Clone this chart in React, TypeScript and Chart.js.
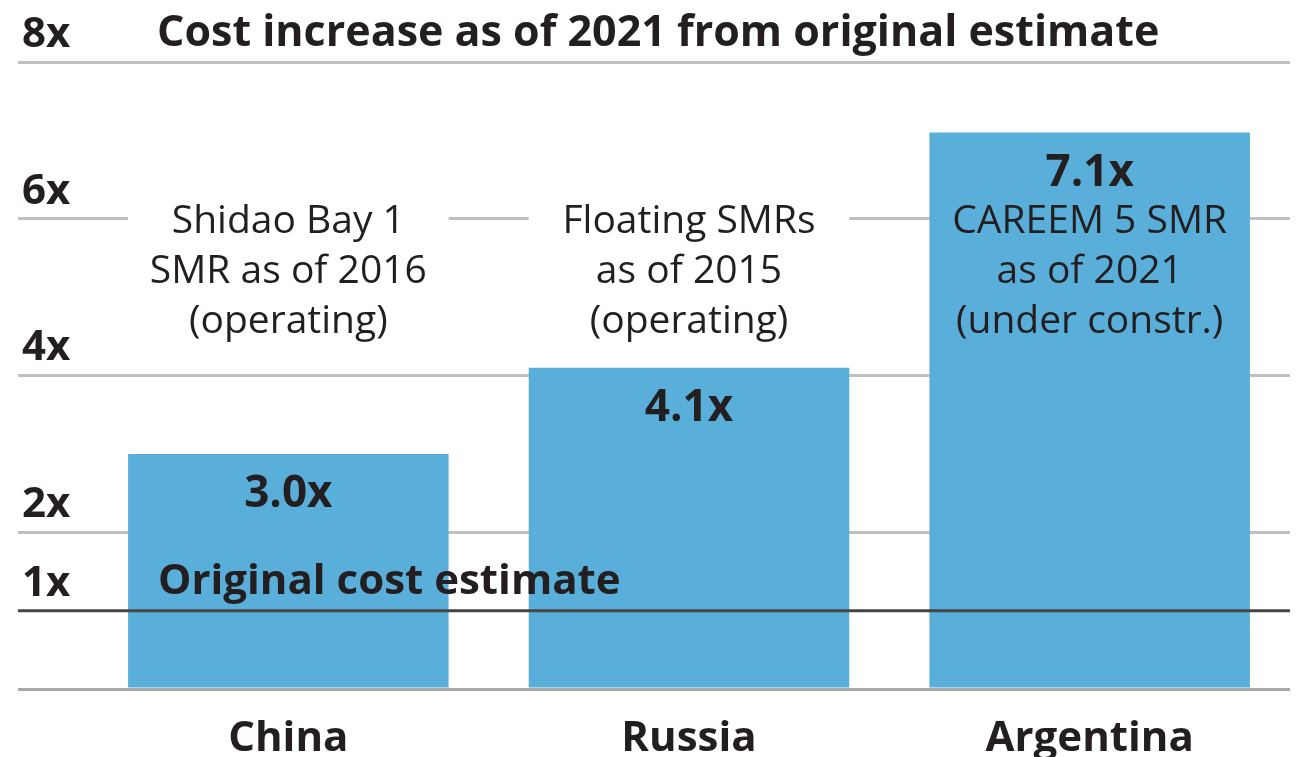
import React, { useEffect, useRef } from 'react';
import { Chart, registerables } from 'chart.js';

Chart.register(...registerables);

// ---- Data ----
const categories = ['China', 'Russia', 'Argentina'];
const costMultiples = [3.0, 4.1, 7.1];
const valueLabels = ['3.0x', '4.1x', '7.1x'];
const projectNotes = [
  ['Shidao Bay 1', 'SMR as of 2016', '(operating)'],
  ['Floating SMRs', 'as of 2015', '(operating)'],
  ['CAREEM 5 SMR', 'as of 2021', '(under constr.)'],
];
const yTickValues = [0, 1, 2, 4, 6, 8];
const yMax = 8;
const baselineValue = 1;
const noteAnchorValue = 6;
const titleText = 'Cost increase as of 2021 from original estimate';
const baselineLabel = 'Original cost estimate';

// ---- Styles ----
const FONT = '"Open Sans", sans-serif';
const TEXT = '#231f20';
const BAR = '#5aafda';

const overlayPlugin = {
  id: 'overlay',
  beforeDatasetsDraw(chart: any) {
    const { ctx } = chart;
    const y = chart.scales.y;
    const meta = chart.getDatasetMeta(0);
    const yNote = y.getPixelForValue(noteAnchorValue);
    ctx.save();
    ctx.fillStyle = '#ffffff';
    meta.data.forEach((bar: any, i: number) => {
      if (costMultiples[i] < noteAnchorValue) {
        const w = bar.width;
        ctx.fillRect(bar.x - w / 2, yNote - 4, w, 8);
      }
    });
    ctx.restore();
  },
  afterDatasetsDraw(chart: any) {
    const { ctx, chartArea } = chart;
    const y = chart.scales.y;
    const meta = chart.getDatasetMeta(0);
    ctx.save();
    // original estimate line, on top of bars
    const y1 = y.getPixelForValue(baselineValue);
    ctx.strokeStyle = '#454545';
    ctx.lineWidth = 3;
    ctx.beginPath();
    ctx.moveTo(y.left, y1);
    ctx.lineTo(chartArea.right, y1);
    ctx.stroke();

    ctx.fillStyle = TEXT;
    ctx.textBaseline = 'middle';

    // value labels inside bars
    ctx.font = `bold 44px ${FONT}`;
    ctx.textAlign = 'center';
    meta.data.forEach((bar: any, i: number) => {
      ctx.fillText(valueLabels[i], bar.x, bar.y + 41);
    });

    // project notes
    ctx.font = `39px ${FONT}`;
    const yNote = y.getPixelForValue(noteAnchorValue);
    meta.data.forEach((bar: any, i: number) => {
      projectNotes[i].forEach((t, j) => {
        ctx.fillText(t, bar.x, yNote + 3 + j * 50);
      });
    });

    // baseline label
    ctx.font = `bold 42px ${FONT}`;
    ctx.textAlign = 'left';
    ctx.fillText(baselineLabel, 158, y1 - 29);

    // title
    ctx.font = `bold 43px ${FONT}`;
    ctx.fillText(titleText, 157, y.getPixelForValue(yMax) - 28);
    ctx.restore();
  },
};

export default function App() {
  const ref = useRef<HTMLCanvasElement>(null);

  useEffect(() => {
    const canvas = ref.current;
    if (!canvas) return;
    const chart = new Chart(canvas, {
      type: 'bar',
      data: {
        labels: categories,
        datasets: [
          {
            data: costMultiples,
            backgroundColor: BAR,
            borderWidth: 0,
            barPercentage: 0.8,
            categoryPercentage: 1.0,
          },
        ],
      },
      options: {
        responsive: false,
        animation: false,
        devicePixelRatio: 1,
        layout: { padding: { left: 18, right: 7, top: 62, bottom: 0 } },
        plugins: {
          legend: { display: false },
          tooltip: { enabled: false },
          title: { display: false },
        },
        scales: {
          x: {
            grid: { display: false },
            border: { display: false },
            afterFit: (s: any) => {
              s.height = 68;
            },
            ticks: {
              padding: 17,
              autoSkip: false,
              maxRotation: 0,
              color: TEXT,
              font: { family: 'Open Sans', size: 42, weight: 'bold' },
            },
          },
          y: {
            min: 0,
            max: yMax,
            afterBuildTicks: (s: any) => {
              s.ticks = yTickValues.map((v) => ({ value: v }));
            },
            afterFit: (s: any) => {
              s.width = 70;
            },
            border: { display: false },
            grid: {
              lineWidth: 3,
              tickLength: 70,
              drawTicks: true,
              color: (c: any) => {
                const v = c.tick ? c.tick.value : null;
                if (v === 0) return '#a8a8a8';
                if (v === baselineValue) return 'rgba(0,0,0,0)';
                return '#c0c0c0';
              },
            },
            ticks: {
              mirror: true,
              padding: -66,
              labelOffset: -27,
              autoSkip: false,
              color: TEXT,
              font: { family: 'Open Sans', size: 42, weight: 'bold' },
              callback: (v: any) => (v === 0 ? '' : `${v}x`),
            },
          },
        },
      },
      plugins: [overlayPlugin],
    });
    return () => chart.destroy();
  }, []);

  return (
    <div style={{ position: 'absolute', left: 0, top: 0, width: 1297, height: 757, background: '#ffffff' }}>
      <canvas ref={ref} width={1297} height={757} style={{ display: 'block', width: 1297, height: 757 }} />
    </div>
  );
}
